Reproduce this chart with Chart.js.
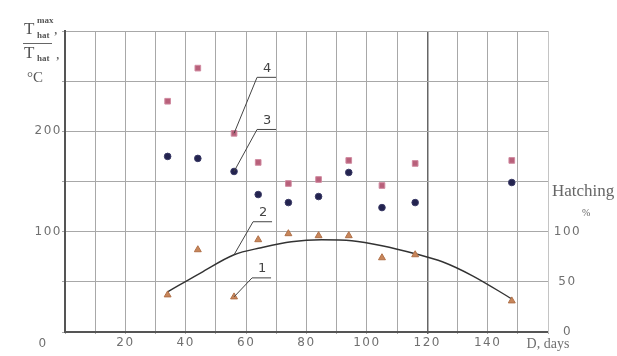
<!DOCTYPE html>
<html>
<head>
<meta charset="utf-8">
<script src="https://cdn.jsdelivr.net/npm/chart.js@4.4.1/dist/chart.umd.min.js"></script>
<style>
  html, body { margin: 0; padding: 0; background: #fff; }
</style>
</head>
<body>
<canvas id="myChart" width="617" height="356"></canvas>
<script>
// data
const days = [34, 44, 56, 64, 74, 84, 94, 105, 116, 148];
const tMax = [230, 263, 198, 169, 148, 152, 171, 146, 168, 171];    // 4
const tMean = [175, 173, 160, 137, 129, 135, 159, 124, 129, 149];   // 3
const hatching = [37, 82, 35, 92, 98, 96, 96, 74, 77, 31];         // 1
const curveDays = [34, 45, 56, 65, 75, 85, 95, 105, 116, 125, 135, 148];
const curveHatch = [40, 59, 77, 84, 90, 92, 91, 86, 78, 70, 56, 33]; // 2
const xTicks = [20, 40, 60, 80, 100, 120, 140];
const yTicks = [100, 200];
const y2Ticks = [0, 50, 100];

const tickFont = { family: 'DejaVu Sans', size: 12 };
const serif = 'Liberation Serif';
const grey = '#707070';

function pts(xs, ys) {
  return xs.map((x, i) => ({ x: x, y: ys[i] }));
}

// callouts: label, dataset index, point index, elbow offset
const callouts = [
  { text: '4', ds: 0, i: 2, dx: 23, dy: -56 },
  { text: '3', ds: 1, i: 2, dx: 23, dy: -42 },
  { text: '2', ds: 3, i: 2, dx: 19, dy: -33 },
  { text: '1', ds: 2, i: 2, dx: 18, dy: -19 },
];

// wide spacing for the axis numbers
const spacingPlugin = {
  id: 'spacing',
  beforeDraw(chart) { chart.ctx.letterSpacing = '1.5px'; },
  beforeDatasetsDraw(chart) { chart.ctx.letterSpacing = '0px'; }
};

const calloutPlugin = {
  id: 'callouts',
  afterDatasetsDraw(chart) {
    const ctx = chart.ctx;
    ctx.save();
    ctx.strokeStyle = '#444';
    ctx.lineWidth = 1;
    ctx.fillStyle = '#444';
    ctx.font = '13px "DejaVu Sans"';
    ctx.textAlign = 'center';
    ctx.textBaseline = 'middle';
    callouts.forEach(c => {
      const el = chart.getDatasetMeta(c.ds).data[c.i];
      const ex = el.x + c.dx, ey = el.y + c.dy;
      ctx.beginPath();
      ctx.moveTo(el.x, el.y);
      ctx.lineTo(ex, ey);
      ctx.lineTo(ex + 19, ey);
      ctx.stroke();
      ctx.fillText(c.text, ex + 10, ey - 9);
    });
    ctx.restore();
  }
};

const textPlugin = {
  id: 'texts',
  afterDraw(chart) {
    const ctx = chart.ctx;
    ctx.save();
    ctx.letterSpacing = '0px';
    ctx.fillStyle = '#555';
    ctx.textBaseline = 'alphabetic';
    ctx.textAlign = 'left';
    // left title
    ctx.font = '17px "' + serif + '"';
    ctx.fillText('T', 24, 34);
    ctx.font = 'bold 9px "' + serif + '"';
    ctx.fillText('max', 37, 23);
    ctx.fillText('hat', 37, 38);
    ctx.font = '14px "' + serif + '"';
    ctx.fillText(',', 54, 34);
    ctx.beginPath();
    ctx.strokeStyle = '#666';
    ctx.moveTo(23, 43.5);
    ctx.lineTo(52, 43.5);
    ctx.stroke();
    ctx.font = '17px "' + serif + '"';
    ctx.fillText('T', 24, 58);
    ctx.font = 'bold 9px "' + serif + '"';
    ctx.fillText('hat', 37, 61);
    ctx.font = '14px "' + serif + '"';
    ctx.fillText(',', 56, 59);
    ctx.font = '15px "' + serif + '"';
    ctx.fillText('°C', 27, 82);
    // right title
    ctx.fillStyle = '#666';
    ctx.font = '17px "' + serif + '"';
    ctx.fillText('Hatching', 552, 196);
    ctx.font = '10px "' + serif + '"';
    ctx.fillText('%', 582, 216);
    // x-axis name at the 160 position
    ctx.fillStyle = grey;
    ctx.textAlign = 'center';
    ctx.textBaseline = 'middle';
    ctx.font = '14px "' + serif + '"';
    ctx.fillText('D, days', chart.scales.x.getPixelForValue(160), 344);
    // corner zero
    ctx.letterSpacing = '1.5px';
    ctx.font = '12px "DejaVu Sans"';
    ctx.fillText('0', 43, 344);
    ctx.restore();
  }
};

const data = {
  datasets: [{
    label: '4',
    data: pts(days, tMax),
    pointStyle: 'rect',
    pointRadius: 4,
    backgroundColor: '#b8607a',
    borderColor: '#d08aa0',
    borderWidth: 1,
    showLine: false,
  }, {
    label: '3',
    data: pts(days, tMean),
    pointStyle: 'circle',
    pointRadius: 3.3,
    backgroundColor: '#23234f',
    borderColor: '#3a3a66',
    borderWidth: 1,
    showLine: false,
  }, {
    label: '1',
    data: pts(days, hatching),
    yAxisID: 'y2',
    pointStyle: 'triangle',
    pointRadius: 4,
    backgroundColor: '#c8865a',
    borderColor: '#b07048',
    borderWidth: 1,
    showLine: false,
  }, {
    label: '2',
    data: pts(curveDays, curveHatch),
    yAxisID: 'y2',
    showLine: true,
    pointRadius: 0,
    borderColor: '#333',
    borderWidth: 1.4,
    tension: 0.4,
    cubicInterpolationMode: 'monotone',
    fill: false,
  }]
};

const config = {
  type: 'scatter',
  data: data,
  options: {
    responsive: false,
    animation: false,
    devicePixelRatio: 1,
    layout: { padding: { top: 31, left: 0, right: 0, bottom: 0 } },
    plugins: {
      legend: { display: false },
      tooltip: { enabled: false },
    },
    scales: {
      x: {
        type: 'linear',
        min: 0,
        max: 160,
        afterFit: s => { s.height = 24; },
        border: { color: '#555', width: 2 },
        grid: {
          color: c => c.tick && c.tick.value === 120 ? '#666' : '#a8a8a8',
          lineWidth: c => c.tick && c.tick.value === 120 ? 1.5 : 1,
          tickLength: 2,
        },
        ticks: {
          stepSize: 10,
          autoSkip: false,
          maxRotation: 0,
          padding: 2,
          color: grey,
          font: tickFont,
          callback: v => xTicks.includes(v) ? String(v) : '',
        }
      },
      y: {
        min: 0,
        max: 300,
        afterFit: s => { s.width = 65; },
        border: { color: '#555', width: 2 },
        grid: { color: '#a8a8a8', tickLength: 3 },
        ticks: {
          stepSize: 50,
          padding: 0,
          color: grey,
          font: tickFont,
          callback: v => yTicks.includes(v) ? String(v) : '',
        }
      },
      y2: {
        position: 'right',
        min: 0,
        max: 300,
        afterFit: s => { s.width = 69; },
        border: { color: '#c4c4c4', width: 1 },
        grid: { display: false, drawTicks: false },
        ticks: {
          stepSize: 50,
          padding: 8,
          crossAlign: 'center',
          color: grey,
          font: tickFont,
          callback: v => y2Ticks.includes(v) ? String(v) : '',
        }
      }
    }
  },
  plugins: [spacingPlugin, calloutPlugin, textPlugin]
};

const myChart = new Chart(document.getElementById('myChart').getContext('2d'), config);
</script>
</body>
</html>
